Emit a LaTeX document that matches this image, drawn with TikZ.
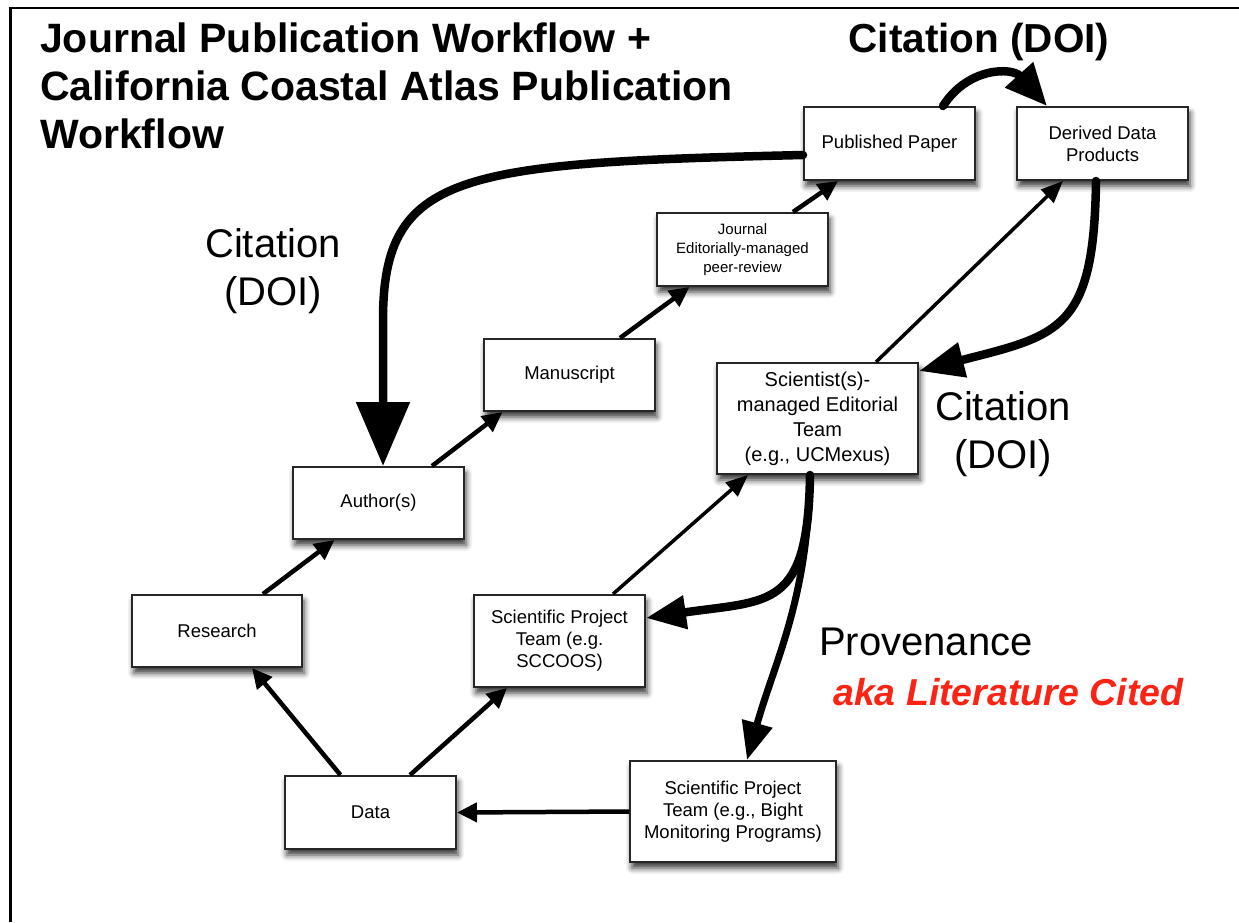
\documentclass[tikz,border=0pt]{standalone}
\usepackage{fontspec}
\setmainfont{Liberation Sans}
\usetikzlibrary{arrows.meta,shadows.blur}

\definecolor{akared}{RGB}{250,35,20}

\tikzset{
  box/.style={draw=black!85, line width=2pt, fill=white, align=center,
    inner sep=2pt, font=\fontsize{18.5}{22}\selectfont,
    blur shadow={shadow xshift=2pt, shadow yshift=-6pt,
      shadow blur radius=6pt, shadow opacity=80}},
  flow/.style={line width=4.5pt, -{Triangle[length=20pt,width=19pt]}},
  fine/.style={line width=3.5pt, -{Triangle[length=22pt,width=18pt]}},
  heavy/.style={line width=8.5pt, line cap=round},
  bigtext/.style={font=\fontsize{40}{48}\selectfont, align=center},
  titletext/.style={anchor=base west, inner sep=0, font=\fontsize{41}{48}\selectfont\bfseries},
}

\begin{document}
\begin{tikzpicture}[x=1pt, y=-1pt]
  \useasboundingbox (0,0) rectangle (1239,922);

  % page frame (left and top rules)
  \draw[line width=2.5pt] (10.5,922) -- (10.5,8) -- (1239,8);

  % title
  \node[titletext] (title1) at (40,52) {Journal Publication Workflow +};
  \node[titletext] (title2) at (40,100) {California Coastal Atlas Publication};
  \node[titletext] (title3) at (40,148) {Workflow};

  % boxes
  \node[box, minimum width=171pt, minimum height=73pt] (pub)  at (889.5,143.5) {Published Paper};
  \node[box, minimum width=171pt, minimum height=73pt] (der)  at (1102.5,143.5) {Derived Data\\Products};
  \node[box, minimum width=171pt, minimum height=73pt, font=\fontsize{15}{19}\selectfont]
    (jour) at (742.5,249.5) {Journal\\Editorially-managed\\peer-review};
  \node[box, minimum width=171pt, minimum height=72pt] (manu) at (569.5,375) {Manuscript};
  \node[box, minimum width=201pt, minimum height=111pt, font=\fontsize{20}{25}\selectfont]
    (sci)  at (817.5,418.5) {Scientist(s)-\\managed Editorial\\Team\\(e.g., UCMexus)};
  \node[box, minimum width=171pt, minimum height=72pt] (auth) at (378.5,503) {Author(s)};
  \node[box, minimum width=170pt, minimum height=72pt] (res)  at (217,631) {Research};
  \node[box, minimum width=171pt, minimum height=92pt] (scc)  at (559.5,641) {Scientific Project\\Team (e.g.\\SCCOOS)};
  \node[box, minimum width=171pt, minimum height=73pt] (data) at (370.5,812.5) {Data};
  \node[box, minimum width=206pt, minimum height=101pt] (bight) at (733,811.5)
    {Scientific Project\\Team (e.g., Bight\\Monitoring Programs)};

  % free labels
  \node[anchor=base, inner sep=0, font=\fontsize{40.5}{48}\selectfont\bfseries]
    (cittop) at (979,52) {Citation (DOI)};
  \node[anchor=base, inner sep=0, bigtext] (citleft1) at (273,257) {Citation};
  \node[anchor=base, inner sep=0, bigtext] (citleft2) at (273,305) {(DOI)};
  \node[anchor=base, inner sep=0, bigtext] (citright1) at (1003,420) {Citation};
  \node[anchor=base, inner sep=0, bigtext] (citright2) at (1003,468) {(DOI)};
  \node[anchor=base west, inner sep=0, bigtext] (prov) at (819,655) {Provenance};
  \node[anchor=base west, inner sep=0, text=akared,
    font=\fontsize{37.5}{44}\selectfont\bfseries\itshape] (aka) at (833,705) {aka Literature Cited};

  % workflow arrows
  \draw[flow] ([xshift=46pt]res.north)   -- ([xshift=-44pt]auth.south);
  \draw[flow] ([xshift=53.5pt]auth.north) -- ([xshift=-67pt]manu.south);
  \draw[flow] ([xshift=50.5pt]manu.north) -- ([xshift=-53pt]jour.south);
  \draw[flow] ([xshift=50.5pt]jour.north) -- ([xshift=-51.5pt]pub.south);
  \draw[flow] ([xshift=-30pt]data.north)  -- ([xshift=35pt]res.south);
  \draw[flow] ([xshift=39.5pt]data.north) -- ([xshift=-52.5pt]scc.south);
  \draw[flow] (bight.west) -- (data.east);
  \draw[fine] ([xshift=53.5pt]scc.north)  -- ([xshift=-69.5pt]sci.south);
  \draw[fine] ([xshift=58.5pt]sci.north)  -- ([xshift=-39.5pt]der.south);

  % citation arrows
  \draw[heavy, -{Triangle[length=42pt,width=36pt]}]
    ([xshift=53.5pt]pub.north) .. controls (968,67) and (1012,67) .. ([xshift=-55.5pt]der.north);
  \draw[heavy, -{Triangle[length=64pt,width=52pt]}]
    ([yshift=-11.5pt]pub.west) .. controls (460,163) and (383,172) .. (383,320)
    -- ([xshift=4.5pt]auth.north);
  \draw[heavy, -{Triangle[length=45pt,width=34pt]}]
    ([xshift=-6.5pt]der.south) .. controls (1094,330) and (1060,335) .. ([yshift=-9pt]sci.north east);

  % provenance arrows
  \draw[heavy, -{Triangle[length=40pt,width=32pt]}]
    ([xshift=-7.5pt]sci.south) .. controls (808,610) and (770,600) .. ([yshift=23pt]scc.east);
  \draw[line width=7pt, line cap=round, -{Triangle[length=38pt,width=30pt]}]
    ([xshift=-7.5pt]sci.south) .. controls (808,600) and (775,660) .. ([xshift=14pt]bight.north);
\end{tikzpicture}
\end{document}
